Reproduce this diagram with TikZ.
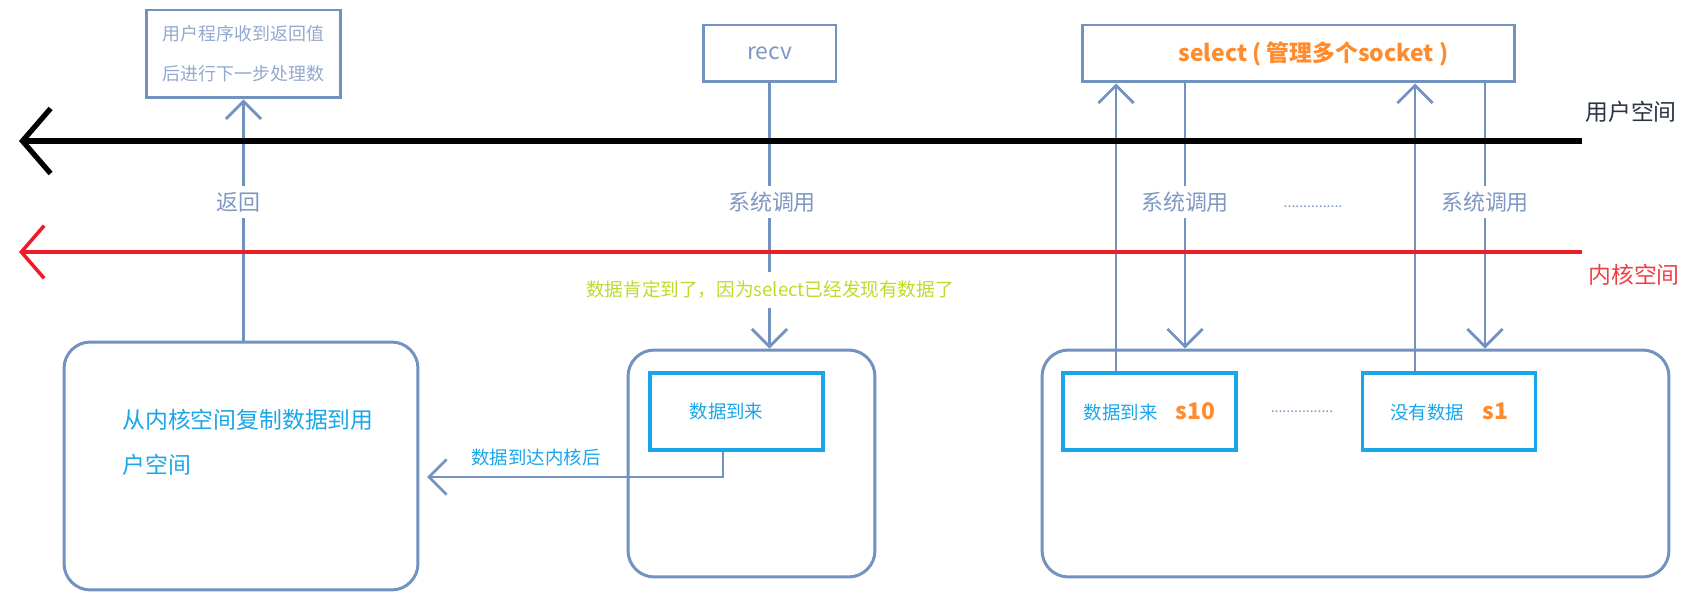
\documentclass[tikz,border=0pt]{standalone}
\usepackage{fontspec}
\newfontfamily\cjk{Noto Sans CJK SC}
\usetikzlibrary{arrows.meta}
\definecolor{steel}{HTML}{7292C0}
\definecolor{slate}{HTML}{7F98C2}
\definecolor{note}{HTML}{93A9CF}
\definecolor{sky}{HTML}{1AA6E8}
\definecolor{tangerine}{HTML}{FF8B2C}
\definecolor{lime}{HTML}{B9DD2E}
\definecolor{kred}{HTML}{EE1C25}
\definecolor{ink}{HTML}{2A3340}
\tikzset{callbox/.style={draw=steel,line width=1.7pt,fill=white,font=\cjk\fontsize{13}{16}\selectfont},lanebox/.style={draw=steel,line width=1.7pt,rounded corners=15pt},databox/.style={draw=sky,line width=2.1pt,minimum width=3.46cm,minimum height=1.54cm,text=sky,font=\cjk\fontsize{10.5}{13}\selectfont},flow/.style={draw=steel,line width=1.6pt,-{Straight Barb[length=10pt,width=20pt]}},calllabel/.style={fill=white,text=slate,inner sep=3.4pt,font=\cjk\fontsize{12.5}{15}\selectfont},userline/.style={draw=black,line width=3pt,-{Straight Barb[length=16pt,width=37pt]}},kernelline/.style={draw=kred,line width=2pt,-{Straight Barb[length=13pt,width=30pt]}},spacelabel/.style={anchor=west,inner sep=0pt,font=\cjk\fontsize{13}{16}\selectfont},dotgap/.style={text=slate,inner sep=0pt,font=\cjk\fontsize{8}{10}\selectfont}}

\begin{document}
\begin{tikzpicture}[x=0.02cm,y=-0.02cm]
\useasboundingbox (0,0) rectangle (1683,594);
\node[callbox,minimum width=3.9cm,minimum height=1.76cm,align=center,text=note,font=\cjk\fontsize{10.2}{22.7}\selectfont] (note) at (243.5,54) {用户程序收到返回值\\后进行下一步处理数};
\node[callbox,minimum width=2.66cm,minimum height=1.14cm,text=slate] (recv) at (769.5,53.5) {recv};
\node[callbox,minimum width=8.66cm,minimum height=1.14cm,text=tangerine,font=\cjk\bfseries\fontsize{13}{16}\selectfont] (sel) at (1298.5,53.5) {\hspace{.6cm}select ( 管理多个socket )};
\node[lanebox,minimum width=7.08cm,minimum height=4.96cm] (copybox) at (241,466) {};
\node[lanebox,minimum width=4.94cm,minimum height=4.54cm] (recvbox) at (751.5,463.5) {};
\node[lanebox,minimum width=12.54cm,minimum height=4.54cm] (selbox) at (1355.5,463.5) {};
\node[databox] (arrived) at (736.5,411.5) {数据到来\kern.4cm\relax};
\node[databox] (s10) at (1149.5,411.5) {数据到来\quad\textcolor{tangerine}{\bfseries\fontsize{13}{16}\selectfont s10}};
\node[databox] (s1) at (1449,411.5) {没有数据\quad\textcolor{tangerine}{\bfseries\fontsize{13}{16}\selectfont s1}};
\node[anchor=west,align=left,inner sep=0pt,text=sky,font=\cjk\fontsize{13}{25.5}\selectfont] (copytxt) at (122,442) {从内核空间复制数据到用\\户空间};
\coordinate (uend) at (1582,141); \coordinate (uedge) at (19,141);
\coordinate (kend) at (1582,252); \coordinate (kedge) at (19,252);
\draw[flow] (note.south |- copybox.north) -- (note.south);
\draw[flow] (recv.south) -- (recv.south |- recvbox.north);
\coordinate (hand) at (427,477);
\draw[flow] ([xshift=-.27cm]arrived.south) |- (hand);
\coordinate (up10) at ([xshift=-.67cm]s10.north); \coordinate (up1) at ([xshift=-.68cm]s1.north);
\coordinate (dn10) at ([xshift=-2.27cm]sel.south); \coordinate (dn1) at ([xshift=3.73cm]sel.south);
\draw[flow] (up10) -- (up10 |- sel.south);\draw[flow] (up1) -- (up1 |- sel.south);
\draw[flow] (dn10) -- (dn10 |- selbox.north);\draw[flow] (dn1) -- (dn1 |- selbox.north);
\draw[userline] (uend) -- (uedge);
\draw[kernelline] (kend) -- (kedge);
\node[spacelabel,text=ink] (userlbl) at (1585,112) {用户空间};
\node[spacelabel,text=kred!85] (kernlbl) at (1588,275) {内核空间};
\node[calllabel] (ret) at (238,202) {返回};
\node[calllabel] (call0) at (772,202) {系统调用};
\node[calllabel] (call10) at (1185,202) {系统调用};
\node[calllabel] (call1) at (1485,202) {系统调用};
\node[dotgap] (gap0) at (1313,207) {...............};
\node[fill=white,inner sep=5pt,text=lime,font=\cjk\fontsize{10.6}{12}\selectfont] (sure) at (770,290) {数据肯定到了，因为select已经发现有数据了};
\node[text=sky,inner sep=0pt,font=\cjk\fontsize{10.5}{13}\selectfont] (tokernel) at (536,457) {数据到达内核后};
\node[dotgap] (gap1) at (1302,412) {................};
\end{tikzpicture}
\end{document}
